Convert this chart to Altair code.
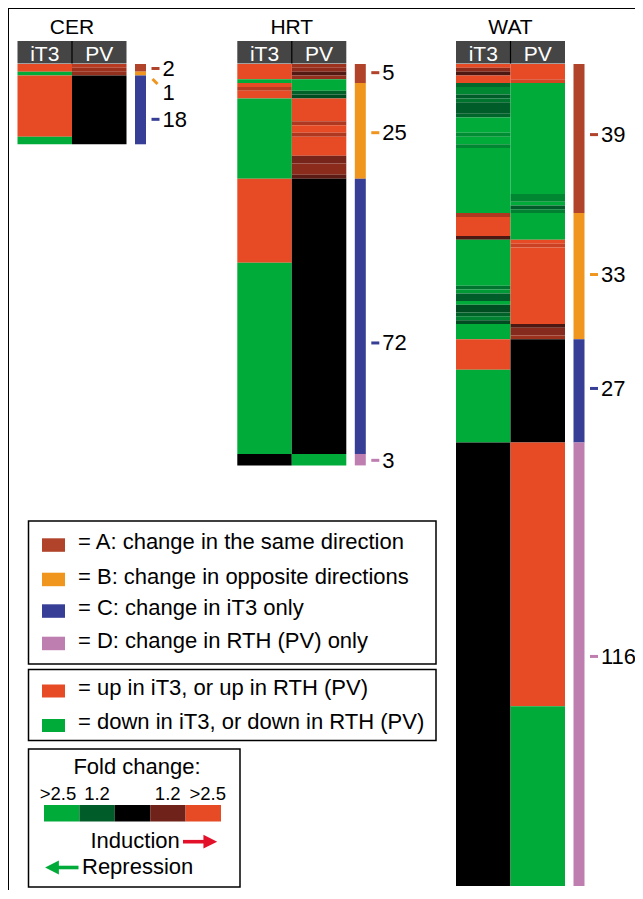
import altair as alt
import pandas as pd

# ---------------- data ----------------
TISSUES = ["CER", "HRT", "WAT"]
COLUMNS = ["iT3", "PV"]

# run-length encoded heat-map columns: (number of genes, signed fold change; 0 = unchanged)
IT3_RUNS = {
    "CER": [(2, 3), (1, -3), (16, 3), (2, -3)],
    "HRT": [(4, 3), (1, -3), (1, 3), (1, 2.0), (2, 3), (21, -3), (22, 3), (50, -3), (3, 0)],
    "WAT": [(1, 3), (1, 1.5), (1, 0.85), (2, 3), (1, -1.4), (2, -1.9), (1, -1.2), (1, -1.6),
            (3, -1.2), (1, -1.35), (4, -3), (1, -2.0), (2, -3), (1, -1.9), (17, -3),
            (1, 1.9), (5, 3), (1, 0.85), (12, -3), (1, -1.6), (1, -2.2), (2, -1.2), (1, -3),
            (2, -1.0), (1, -1.3), (1, -1.8), (1, -1.0), (4, -3),
            (8, 3), (19, -3),
            (116, 0)],
}
PV_RUNS = {
    "CER": [(1, 2.0), (1, 1.7), (1, 1.6), (18, 0)],
    "HRT": [(1, 1.7), (1, 1.55), (1, 0.9), (1, 1.6), (1, -3), (2, -3), (1, -1.3), (1, -1.0),
            (6, 3), (1, 1.9), (2, 3), (1, 1.9), (5, 3), (2, 1.3), (3, 1.5), (1, 1.0),
            (72, 0), (3, -3)],
    "WAT": [(4, 3), (1, 2.3), (29, -3), (2, -1.9), (1, -3), (1, -1.2), (1, -1.8),
            (7, -3), (1, 3), (1, 2.2), (20, 3), (1, 0.85), (2, 1.45), (1, 1.7),
            (27, 0),
            (69, 3), (47, -3)],
}
GROUPS = ["A", "B", "C", "D"]
GROUP_SIZES = {"CER": [2, 1, 18, 0], "HRT": [5, 25, 72, 3], "WAT": [39, 33, 27, 116]}
# where each count label sits, in gene rows from the top of the panel
LABEL_ROWS = {"CER": [1.3, 7.6, 14.6], "HRT": [2.4, 18.1, 73.1, 103.8], "WAT": [18.6, 55.2, 85.0, 155.1]}

GROUP_TEXT = ["= A: change in the same direction", "= B: change in opposite directions",
              "= C: change in iT3 only", "= D: change in RTH (PV) only"]
DIR_TEXT = ["= up in iT3, or up in RTH (PV)", "= down in iT3, or down in RTH (PV)"]
DIR_VALUES = [3, -3]
FOLD_STEPS = [-3, -1.2, 0, 1.2, 3]
FOLD_LABELS = [">2.5", "1.2", "1.2", ">2.5"]

# ---------------- styles / layout ----------------
FONT = "Liberation Sans"
GROUP_COLORS = ["#B0432A", "#F0961E", "#363E95", "#BF7EB0"]
HEAT_DOMAIN = [-2.5, -1.2, 0, 1.2, 2.5]
HEAT_RANGE = ["#00AB3A", "#005C28", "#000000", "#6E2219", "#E64B26"]
W, H = 627, 882
X0, Y0 = 8, 8
TOP, RH = 64.0, 3.823
COLW = 54.5
PANEL_X = {"CER": 17.5, "HRT": 237.3, "WAT": 456.0}

xs = alt.Scale(domain=[X0, X0 + W], range=[0, W], nice=False, zero=False, padding=0)
ys = alt.Scale(domain=[Y0, Y0 + H], range=[0, H], nice=False, zero=False, padding=0)
heat_scale = alt.Scale(domain=HEAT_DOMAIN, range=HEAT_RANGE, clamp=True, interpolate="rgb")


def X(f="x"):
    return alt.X(f"{f}:Q", scale=xs, axis=None)


def Y(f="y"):
    return alt.Y(f"{f}:Q", scale=ys, axis=None)


# ---------------- build tables ----------------
heat = []
for t in TISSUES:
    for ci, (col, runs) in enumerate([("iT3", IT3_RUNS[t]), ("PV", PV_RUNS[t])]):
        r = 0
        for n, v in runs:
            heat.append(dict(tissue=t, col=col, v=v,
                             x=PANEL_X[t] + ci * COLW, x2=PANEL_X[t] + (ci + 1) * COLW,
                             y=TOP + r * RH, y2=TOP + (r + n) * RH))
            r += n
heat = pd.DataFrame(heat)

side, labels = [], []
for t in TISSUES:
    r = 0
    for g, n, c in zip(GROUPS, GROUP_SIZES[t], GROUP_COLORS):
        if n:
            side.append(dict(x=PANEL_X[t] + 117.5, x2=PANEL_X[t] + 128.5,
                             y=TOP + r * RH, y2=TOP + (r + n) * RH, c=c))
        r += n
    sizes = [n for n in GROUP_SIZES[t] if n]
    cols = [c for n, c in zip(GROUP_SIZES[t], GROUP_COLORS) if n]
    for lr, n, c in zip(LABEL_ROWS[t], sizes, cols):
        yy = TOP + lr * RH
        lab = dict(text=str(n), x=PANEL_X[t] + 145, y=yy, c=c,
                   dx1=PANEL_X[t] + 134, dx2=PANEL_X[t] + 142, dy1=yy - 0.5, dy2=yy - 0.5)
        if t == "CER" and n == 1:
            lab.update(dx1=PANEL_X[t] + 135, dx2=PANEL_X[t] + 140, dy1=79, dy2=84)
        labels.append(lab)
side = pd.DataFrame(side)
labels = pd.DataFrame(labels)

layers = []

# frame lines
frame = pd.DataFrame([dict(x=8.5, x2=8.5, y=8, y2=Y0 + H), dict(x=8, x2=X0 + W, y=8.5, y2=8.5)])
layers.append(alt.Chart(frame).mark_rule(color="black", strokeWidth=1).encode(
    x=X(), x2="x2:Q", y=Y(), y2="y2:Q"))

# heat maps
layers.append(alt.Chart(heat).mark_rect(stroke=None).encode(
    x=X(), x2="x2:Q", y=Y(), y2="y2:Q",
    color=alt.Color("v:Q", scale=heat_scale, legend=None)))

# headers
hdr = pd.DataFrame([dict(x=PANEL_X[t], x2=PANEL_X[t] + 2 * COLW, y=41, y2=63.5) for t in TISSUES])
layers.append(alt.Chart(hdr).mark_rect(color="#454545").encode(x=X(), x2="x2:Q", y=Y(), y2="y2:Q"))
hdiv = pd.DataFrame([dict(x=PANEL_X[t] + COLW, y=41, y2=63.5) for t in TISSUES])
layers.append(alt.Chart(hdiv).mark_rule(color="black", strokeWidth=1.2).encode(x=X(), y=Y(), y2="y2:Q"))
htxt = pd.DataFrame([dict(x=PANEL_X[t] + (i + 0.5) * COLW, y=60.5, text=c)
                     for t in TISSUES for i, c in enumerate(COLUMNS)])
layers.append(alt.Chart(htxt).mark_text(font=FONT, fontSize=21, color="white", baseline="alphabetic").encode(
    x=X(), y=Y(), text="text:N"))
ttl = pd.DataFrame([dict(x=PANEL_X[t] + COLW, y=34.3, text=t) for t in TISSUES])
layers.append(alt.Chart(ttl).mark_text(font=FONT, fontSize=21, color="black", baseline="alphabetic").encode(
    x=X(), y=Y(), text="text:N"))

# side bars + count labels
layers.append(alt.Chart(side).mark_rect().encode(
    x=X(), x2="x2:Q", y=Y(), y2="y2:Q", color=alt.Color("c:N", scale=None)))
layers.append(alt.Chart(labels).mark_rule(strokeWidth=3).encode(
    x=X("dx1"), x2="dx2:Q", y=Y("dy1"), y2="dy2:Q", color=alt.Color("c:N", scale=None)))
layers.append(alt.Chart(labels).mark_text(font=FONT, fontSize=22, align="left", baseline="middle",
                                          color="black").encode(x=X(), y=Y(), text="text:N"))

# legend boxes
boxes = pd.DataFrame([dict(x=28.5, x2=436, y=521, y2=664),
                      dict(x=28.5, x2=436, y=669.5, y2=740.5),
                      dict(x=28.5, x2=240, y=749, y2=887)])
layers.append(alt.Chart(boxes).mark_rect(fill="white", stroke="black", strokeWidth=1.5).encode(
    x=X(), x2="x2:Q", y=Y(), y2="y2:Q"))

sw_top = [538.3, 572.7, 604.3, 636.7]
gsw = pd.DataFrame([dict(x=42, x2=65, y=t, y2=t + 13.5, c=c, text=s)
                    for t, c, s in zip(sw_top, GROUP_COLORS, GROUP_TEXT)])
layers.append(alt.Chart(gsw).mark_rect().encode(
    x=X(), x2="x2:Q", y=Y(), y2="y2:Q", color=alt.Color("c:N", scale=None)))
gsw["tx"] = 78
gsw["ty"] = gsw["y2"] - 2.5
layers.append(alt.Chart(gsw).mark_text(font=FONT, fontSize=22, align="left", baseline="alphabetic").encode(
    x=X("tx"), y=Y("ty"), text="text:N"))

dsw = pd.DataFrame([dict(x=42, x2=65, y=t, y2=t + 13, v=v, text=s)
                    for t, v, s in zip([684.5, 719], DIR_VALUES, DIR_TEXT)])
layers.append(alt.Chart(dsw).mark_rect().encode(
    x=X(), x2="x2:Q", y=Y(), y2="y2:Q", color=alt.Color("v:Q", scale=heat_scale, legend=None)))
dsw["tx"] = 78
dsw["ty"] = dsw["y2"] - 3
layers.append(alt.Chart(dsw).mark_text(font=FONT, fontSize=22, align="left", baseline="alphabetic").encode(
    x=X("tx"), y=Y("ty"), text="text:N"))

# fold-change bar
fw = (221 - 44) / len(FOLD_STEPS)
fsw = pd.DataFrame([dict(x=44 + i * fw, x2=44 + (i + 1) * fw, y=805, y2=821.5, v=v)
                    for i, v in enumerate(FOLD_STEPS)])
layers.append(alt.Chart(fsw).mark_rect().encode(
    x=X(), x2="x2:Q", y=Y(), y2="y2:Q", color=alt.Color("v:Q", scale=heat_scale, legend=None)))
flab = pd.DataFrame([dict(x=xx, y=800, text=s) for xx, s in zip([58, 97, 167.7, 207.7], FOLD_LABELS)])
layers.append(alt.Chart(flab).mark_text(font=FONT, fontSize=18.5, baseline="alphabetic").encode(
    x=X(), y=Y(), text="text:N"))
misc = pd.DataFrame([dict(x=137, y=774.3, text="Fold change:", a="center"),
                     dict(x=90.5, y=848.3, text="Induction", a="left"),
                     dict(x=82, y=873.5, text="Repression", a="left")])
layers.append(alt.Chart(misc[misc.a == "center"]).mark_text(font=FONT, fontSize=22, baseline="alphabetic").encode(
    x=X(), y=Y(), text="text:N"))
layers.append(alt.Chart(misc[misc.a == "left"]).mark_text(font=FONT, fontSize=22, align="left",
                                                          baseline="alphabetic").encode(
    x=X(), y=Y(), text="text:N"))

# arrows
arrows = pd.DataFrame([dict(x=183, x2=205, y=841.7, y2=841.7, c="#E3102A"),
                       dict(x=57, x2=78.5, y=867.5, y2=867.5, c="#00AB3A")])
layers.append(alt.Chart(arrows).mark_rule(strokeWidth=3.6).encode(
    x=X(), x2="x2:Q", y=Y(), y2="y2:Q", color=alt.Color("c:N", scale=None)))
heads = pd.DataFrame([dict(x=210.3, y=841.7, c="#E3102A"), dict(x=52, y=867.5, c="#00AB3A")])
layers.append(alt.Chart(heads.iloc[[0]]).mark_point(shape="M-1,-1L1,0L-1,1Z", filled=True, opacity=1,
                                                     size=190, strokeWidth=0).encode(
    x=X(), y=Y(), color=alt.Color("c:N", scale=None)))
layers.append(alt.Chart(heads.iloc[[1]]).mark_point(shape="M1,-1L-1,0L1,1Z", filled=True, opacity=1,
                                                     size=190, strokeWidth=0).encode(
    x=X(), y=Y(), color=alt.Color("c:N", scale=None)))

chart = alt.layer(*layers).resolve_scale(color="independent").properties(
    width=W, height=H, padding=0, autosize=alt.AutoSizeParams(type="none")
).configure_view(stroke=None)

chart.save("out.html", embed_options={"renderer": "svg", "actions": False})
